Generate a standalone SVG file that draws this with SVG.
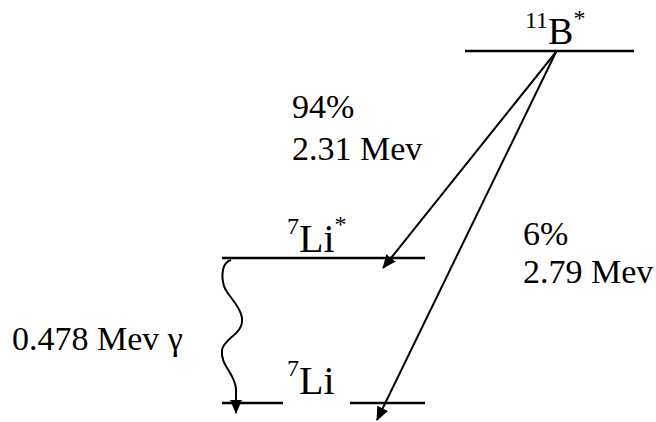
<svg xmlns="http://www.w3.org/2000/svg" width="656" height="422" viewBox="0 0 656 422">
<defs>
<style>
text{font-family:'Liberation Serif','DejaVu Serif','Times New Roman',Times,serif;fill:#000}
.lbl{font-size:34px}
.big{font-size:40px}
.sup{font-size:24px}
.lv{stroke:#000;stroke-width:2.5;fill:none}
.ar{stroke:#000;stroke-width:2;fill:none}
</style>
<marker id="ah" viewBox="0 0 14 12" refX="13" refY="6" markerWidth="14" markerHeight="12" markerUnits="userSpaceOnUse" orient="auto">
<path d="M0,0 L14,6 L0,12 z" fill="#000"/>
</marker>
</defs>
<rect width="656" height="422" fill="#fff"/>
<g id="B11">
<line class="lv" x1="465" y1="51" x2="634" y2="51"/>
<text x="525" y="44"><tspan class="sup" dy="-16">11</tspan><tspan dy="16" font-size="38">B</tspan><tspan class="sup" dy="-18">*</tspan></text>
</g>
<g id="Li7s">
<line class="lv" x1="222" y1="258" x2="425" y2="258"/>
<text x="287" y="252"><tspan class="sup" dy="-18">7</tspan><tspan class="big" dy="18">Li</tspan><tspan class="sup" dy="-20">*</tspan></text>
</g>
<g id="Li7">
<line class="lv" x1="222" y1="403" x2="283" y2="403"/>
<line class="lv" x1="350" y1="403" x2="425" y2="403"/>
<text x="287" y="394"><tspan class="sup" dy="-18">7</tspan><tspan class="big" dy="18">Li</tspan></text>
</g>
<g id="labels">
<text class="lbl" x="292" y="118">94%</text>
<text class="lbl" x="292" y="160">2.31 Mev</text>
<text class="lbl" x="523" y="245">6%</text>
<text class="lbl" x="523" y="283">2.79 Mev</text>
<text class="lbl" x="12" y="350">0.478 Mev γ</text>
</g>
<g id="connectors">
<line class="ar" x1="556" y1="52" x2="383" y2="268" marker-end="url(#ah)"/>
<line class="ar" x1="556" y1="52" x2="377" y2="420" marker-end="url(#ah)"/>
<path class="ar" d="M231,260 C222,262 221,276 224,286 C227,296 240,304 242,318 C244,334 224,338 222,350 C220,366 236,374 236,390 L236,413" marker-end="url(#ah)"/>
</g>
</svg>
